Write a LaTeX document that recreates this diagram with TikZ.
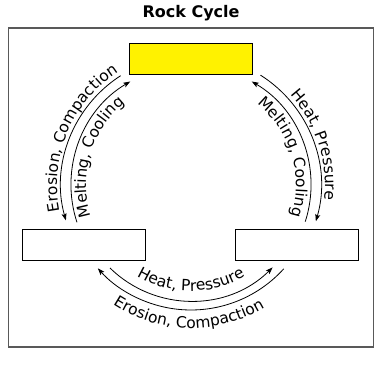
\documentclass[tikz,border=0pt]{standalone}
\usepackage{fontspec}
\setmainfont{DejaVu Sans}
\newfontfamily\arcfont{DejaVu Sans}
\usetikzlibrary{arrows.meta,decorations.text}
\tikzset{
  rockbox/.style={draw=black,line width=0.9pt,minimum width=123pt,minimum height=31pt,inner sep=0pt},
  cyclearc/.style={line width=0.8pt,-{Stealth[length=7pt,width=5pt,inset=1.5pt]}},
  arctext/.style={decorate,decoration={text along path,text align=center,text={|\arcfont\fontsize{15.5}{17}\selectfont|#1}}}
}
\begin{document}
\begin{tikzpicture}[x=1pt,y=1pt]
\useasboundingbox (0,0) rectangle (388,366);
\fill[white] (0,0) rectangle (388,366);
\node[font=\bfseries\fontsize{16}{18}\selectfont] (title) at (191,353) {Rock Cycle};
\draw[line width=1.6pt,draw=black!65] (8.5,19) rectangle (373.5,338);
\node[rockbox,fill=yellow] (top) at (190.5,307.5) {};
\node[rockbox] (left) at (84,121.5) {};
\node[rockbox] (right) at (297,121.5) {};
\coordinate (c) at (191,181);
% left arcs
\draw[cyclearc] ([shift={(122.8:130)}]c) arc[start angle=122.8,end angle=195.8,radius=130];
\draw[cyclearc] ([shift={(198.1:120)}]c) arc[start angle=198.1,end angle=120.4,radius=120];
% right arcs
\draw[cyclearc] ([shift={(57.7:130)}]c) arc[start angle=57.7,end angle=-16.2,radius=130];
\draw[cyclearc] ([shift={(-17.8:120)}]c) arc[start angle=-17.8,end angle=59.6,radius=120];
% bottom arcs
\draw[cyclearc] ([shift={(225.7:116)}]c) arc[start angle=225.7,end angle=314.7,radius=116];
\draw[cyclearc] ([shift={(-42.1:125)}]c) arc[start angle=-42.1,end angle=-138.2,radius=125];
% texts
\path[arctext={Erosion, Compaction}] ([shift={(212:134)}]c) arc[start angle=212,end angle=102,radius=134];
\path[arctext={Melting, Cooling}] ([shift={(218:105)}]c) arc[start angle=218,end angle=108,radius=105];
\path[arctext={Heat, Pressure}] ([shift={(73:134)}]c) arc[start angle=73,end angle=-37,radius=134];
\path[arctext={Melting, Cooling}] ([shift={(72:105)}]c) arc[start angle=72,end angle=-38,radius=105];
\path[arctext={Heat, Pressure}] ([shift={(215:106)}]c) arc[start angle=215,end angle=325,radius=106];
\path[arctext={Erosion, Compaction}] ([shift={(214:143)}]c) arc[start angle=214,end angle=324,radius=143];
\end{tikzpicture}
\end{document}
